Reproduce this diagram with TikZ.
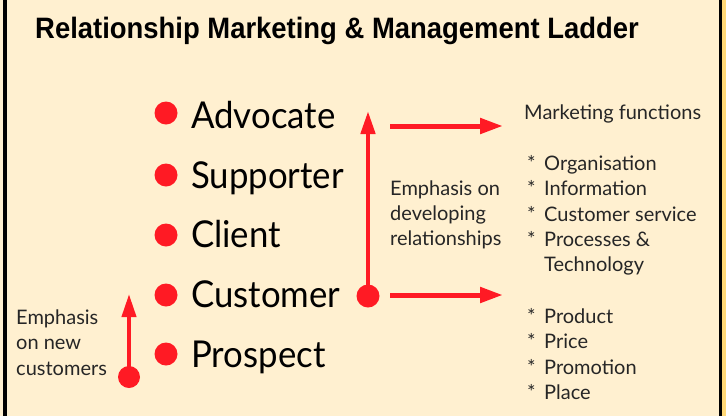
\documentclass[tikz,border=0pt]{standalone}
\usepackage{fontspec}
\setmainfont{Lato}
\newfontfamily\titlefont{Liberation Sans}
\newfontfamily\ladderfont{Lato}[FakeStretch=0.94]
\usetikzlibrary{arrows.meta}
\definecolor{paper}{HTML}{FFF0D0}
\definecolor{edge}{HTML}{FFD877}
\definecolor{ladderred}{HTML}{FF1A24}
\begin{document}
\begin{tikzpicture}[x=1pt,y=-1pt,
  rung/.style={circle,fill=ladderred,inner sep=0pt,minimum size=23pt},
  rungtext/.style={anchor=base west,inner sep=0pt,font=\ladderfont\fontsize{37}{40}\selectfont},
  small/.style={anchor=base west,inner sep=0pt,font=\fontsize{20}{22}\selectfont,text=black!85},
  bigarrow/.style={draw=ladderred,line width=4.5pt,-{Triangle[length=23pt,width=14pt]}},
  flowarrow/.style={draw=ladderred,line width=5pt,-{Triangle[length=23pt,width=15pt]}}]
  % canvas and side rules
  \fill[paper] (0,0) rectangle (726,416);
  \fill[edge] (722,0) rectangle (726,416);
  \fill[black] (3,0) rectangle (6.5,416);
  \fill[black] (719,0) rectangle (722,416);
  \useasboundingbox (0,0) rectangle (726,416);

  % title
  \node[anchor=base west,inner sep=0pt] (title) at (35,38)
    {\titlefont\bfseries\fontsize{29.5}{32}\selectfont\scalebox{0.93}[1]{Relationship Marketing \& Management Ladder}};

  % the ladder
  \node[rung] (b1) at (166,113) {};
  \node[rung] (b2) at (166,175) {};
  \node[rung] (b3) at (166,235) {};
  \node[rung] (b4) at (166,295) {};
  \node[rung] (b5) at (166,354) {};
  \node[rungtext] (advocate)  at (191,128) {Advocate};
  \node[rungtext] (supporter) at (191,188) {Supporter};
  \node[rungtext] (client)    at (191,247) {Client};
  \node[rungtext] (customer)  at (191,307) {Customer};
  \node[rungtext] (prospect)  at (191,367) {Prospect};

  % relationship development arrow
  \node[rung] (devstart) at (368,296) {};
  \coordinate (devend) at (368,111);
  \draw[bigarrow] (devstart.center) -- (devend);

  % new customer arrow
  \node[rung,minimum size=22pt] (newstart) at (129,377) {};
  \coordinate (newend) at (129,294);
  \draw[bigarrow,line width=4pt] (newstart.center) -- (newend);

  % links to marketing functions
  \coordinate (upperfrom) at (390,126);
  \coordinate (upperto)   at (503,126);
  \coordinate (lowerfrom) at (390,295);
  \coordinate (lowerto)   at (503,295);
  \draw[flowarrow] (upperfrom) -- (upperto);
  \draw[flowarrow] (lowerfrom) -- (lowerto);

  % captions
  \node[small] (dev1) at (390,195) {Emphasis on};
  \node[small] (dev2) at (390,220) {developing};
  \node[small] (dev3) at (390,245) {relationships};
  \node[small] (new1) at (16,324) {Emphasis};
  \node[small] (new2) at (16,349) {on new};
  \node[small] (new3) at (16,375) {customers};

  % marketing functions
  \node[small] (mf) at (524,119) {Marketing functions};
  \foreach \txt/\yy [count=\i] in {Organisation/170,Information/195,Customer service/221,Processes \&/246,Product/323,Price/348,Promotion/374,Place/399}
    \node[small] (item\i) at (527,\yy) {\makebox[17pt][l]{*}\txt};
  \node[small] (item4b) at (544,271) {Technology};
\end{tikzpicture}
\end{document}
